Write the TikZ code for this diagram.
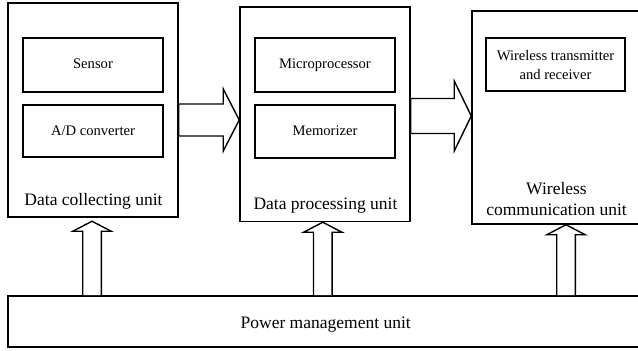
\documentclass[tikz,border=0pt]{standalone}
\usepackage{fontspec}
\setmainfont{Liberation Serif}
\usetikzlibrary{calc,fit}
\begin{document}
\begin{tikzpicture}[x=0.5pt,y=-0.5pt,
  outer/.style={draw,line width=0.75pt,inner sep=0pt},
  innerbox/.style={draw,line width=0.6pt,inner sep=0pt},
  blk/.style={draw,line width=0.7pt,fill=white,line join=miter},
  big/.style={font=\fontsize{8.75}{10.3}\selectfont,inner sep=0pt},
  small/.style={font=\fontsize{7.3}{9.1}\selectfont,inner sep=0pt}]
\useasboundingbox (0,0) rectangle (638,351);
% outer units
\node[outer,fit={(8,3)(178,217)}] (L) {};
\node[outer,fit={(240,7)(410,221.5)}] (M) {};
\node[outer,fit={(472,11)(645,224)}] (R) {};
\node[outer,fit={(8,296)(645,347)}] (P) {};
% inner boxes
\node[innerbox,fit={(23,38)(163,92)}] (sensor) {};
\node[innerbox,fit={(23,105)(163,157)}] (adc) {};
\node[innerbox,fit={(255,38)(395,92)}] (micro) {};
\node[innerbox,fit={(255,105)(395,158)}] (mem) {};
\node[innerbox,fit={(486,38)(625,91)}] (wtr) {};
% texts
\node[small,anchor=base] (tsensor) at (93,69) {Sensor};
\node[small,anchor=base] (tadc) at (93,135.7) {A/D converter};
\node[small,anchor=base] (tmicro) at (325,69) {Microprocessor};
\node[small,anchor=base] (tmem) at (325,135.7) {Memorizer};
\node[small,align=center] (twtr) at (555.5,65) {Wireless transmitter\\and receiver};
\node[big,anchor=base] (tL) at (93.5,206) {Data collecting unit};
\node[big,anchor=base] (tM) at (325.5,210) {Data processing unit};
\node[big,align=center] (tR) at (556.5,199) {Wireless\\communication unit};
\node[big,anchor=base] (tP) at (325.7,328.3) {Power management unit};
% horizontal block arrows
\coordinate (h1) at (0,120);
\coordinate (h2) at (0,116);
\draw[blk] ($(L.east|-h1)+(0,-16)$) -- ($(M.west|-h1)+(-16,-16)$) -- ($(M.west|-h1)+(-16,-31)$)
  -- (M.west|-h1) -- ($(M.west|-h1)+(-16,31)$) -- ($(M.west|-h1)+(-16,16)$)
  -- ($(L.east|-h1)+(0,16)$) -- cycle;
\draw[blk] ($(M.east|-h2)+(0,-17.5)$) -- ($(R.west|-h2)+(-17,-17.5)$) -- ($(R.west|-h2)+(-17,-35)$)
  -- (R.west|-h2) -- ($(R.west|-h2)+(-17,35)$) -- ($(R.west|-h2)+(-17,17.5)$)
  -- ($(M.east|-h2)+(0,17.5)$) -- cycle;
% vertical block arrows
\coordinate (v1) at (92,0);
\coordinate (v2) at (322.8,0);
\coordinate (v3) at (566,0);
\coordinate (t1) at ($(L.south-|v1)+(0,3.5)$);
\coordinate (t2) at (M.south-|v2);
\coordinate (t3) at (R.south-|v3);
\foreach \t/\v in {t1/v1,t2/v2,t3/v3}{
  \draw[blk] ($(P.north-|\v)+(-9.3,0)$) -- ($(\t)+(-9.3,10)$) -- ($(\t)+(-19.2,10)$)
    -- (\t) -- ($(\t)+(19.2,10)$) -- ($(\t)+(9.3,10)$) -- ($(P.north-|\v)+(9.3,0)$);
}
\end{tikzpicture}
\end{document}
